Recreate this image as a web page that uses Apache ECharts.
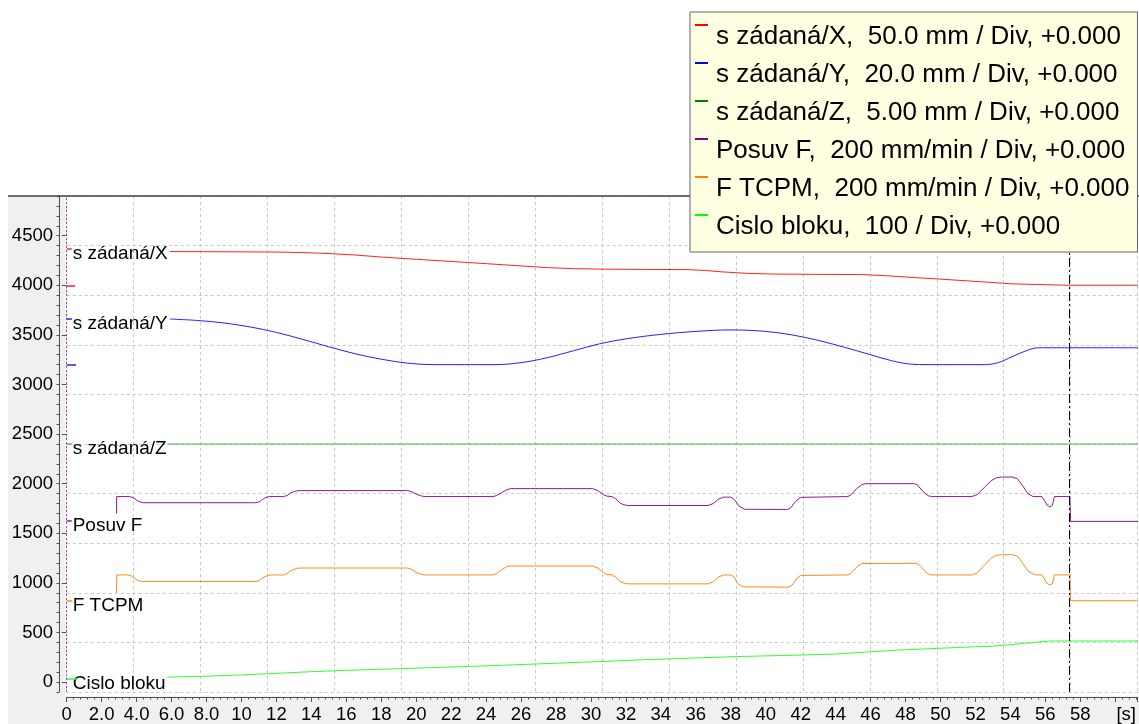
<!DOCTYPE html>
<html>
<head>
<meta charset="utf-8">
<script src="https://cdn.jsdelivr.net/npm/echarts@6/dist/echarts.min.js"></script>
<style>
  html, body { margin: 0; padding: 0; background: #ffffff; }
  #chart { width: 1139px; height: 724px; }
</style>
</head>
<body>
<div id="chart"></div>
<script>
// ---- recorder channels -------------------------------------------------
const channelNames   = ['s zádaná/X', 's zádaná/Y', 's zádaná/Z', 'Posuv F', 'F TCPM', 'Cislo bloku'];
const channelScales  = ['50.0 mm / Div', '20.0 mm / Div', '5.00 mm / Div', '200 mm/min / Div', '200 mm/min / Div', '100 / Div'];
const channelOffsets = ['+0.000', '+0.000', '+0.000', '+0.000', '+0.000', '+0.000'];
const channelColors  = ['#ff0000', '#0000ff', '#008000', '#800080', '#ff8000', '#00ff00'];
const traceColors    = ['#ff2020', '#2020ff', '#4cb04c', '#8c1c8c', '#ff8a1a', '#30ff30'];

// level of each channel's name tag and the length [s] of its tag dash
const tagLevels  = [4364, 3664, 2400, 1624, 824, 34];
const tagLengths = [0.29, 0.30, 0.29, 0.29, 0.32, 0.61];
// second reference dash (X and Y only)
const refLevels  = [4000, 3200, null, null, null, null];
const refLengths = [0.48, 0.53, 0, 0, 0, 0];

// cursors [s]
const cursorStart = 0;
const cursorEnd = 57.35;

// axes
const timeMax = 61.28;
const timeDivisions = 16;
const yMin = -100;
const yMax = 4900;
const yDivision = 500;
const yTickLabels = [0, 500, 1000, 1500, 2000, 2500, 3000, 3500, 4000, 4500];

// ---- samples [time s, display value] -----------------------------------
const sZadanaX = [
  [5.9, 4340], [9, 4338], [12, 4335], [13.5, 4330], [15, 4320], [16.5, 4305], [18, 4285],
  [20, 4262], [22, 4240], [24, 4218], [26, 4195], [27.5, 4178], [29, 4168], [30.5, 4163],
  [33, 4160], [35.5, 4158], [36.5, 4150], [37.5, 4135], [39, 4120], [40.5, 4113], [43, 4110],
  [45.5, 4108], [47, 4095], [48.5, 4078], [50, 4062], [51.5, 4045], [53, 4028], [54, 4015],
  [55.5, 4008], [57.3, 4000], [61.3, 4000]
];
const sZadanaY = [
  [5.9, 3660], [7.5, 3645], [9, 3620], [10.5, 3580], [12, 3525], [13.5, 3455], [15, 3380],
  [16.5, 3310], [18, 3255], [19.5, 3215], [21, 3200], [24.5, 3200], [26, 3220], [27.5, 3270],
  [29, 3340], [30.5, 3410], [32, 3460], [34, 3505], [36, 3535], [38, 3550], [40, 3535],
  [41.5, 3500], [43, 3445], [44.5, 3375], [46, 3300], [47.2, 3240], [48.3, 3205], [49.3, 3200],
  [52.5, 3200], [53.3, 3220], [54.1, 3280], [54.9, 3340], [55.6, 3370], [61.3, 3370]
];
const sZadanaZ = [
  [5.75, 2400], [61.3, 2400]
];
const posuvF = [
  [2.85, 1700], [2.86, 1870], [3.6, 1870], [3.8, 1860], [4.0, 1835], [4.2, 1815], [4.4, 1808],
  [10.8, 1808], [11.0, 1815], [11.2, 1840], [11.4, 1862], [11.6, 1870],
  [12.4, 1870], [12.6, 1880], [12.8, 1905], [13.1, 1925], [13.3, 1930],
  [19.5, 1930], [19.7, 1922], [20.0, 1895], [20.3, 1876], [20.5, 1870],
  [24.4, 1870], [24.6, 1880], [24.9, 1910], [25.2, 1940], [25.4, 1950],
  [30.1, 1950], [30.4, 1930], [30.7, 1890], [30.9, 1875], [31.2, 1870], [31.4, 1850],
  [31.7, 1800], [32.0, 1782], [32.2, 1780],
  [36.7, 1780], [37.0, 1800], [37.3, 1845], [37.6, 1864], [38.0, 1864], [38.2, 1840],
  [38.5, 1770], [38.8, 1742], [41.2, 1740], [41.4, 1750], [41.7, 1820], [42.0, 1862], [42.1, 1870],
  [44.7, 1870], [44.9, 1890], [45.2, 1950], [45.5, 1990], [45.7, 2000],
  [48.5, 2000], [48.7, 1985], [49.0, 1920], [49.3, 1878], [49.5, 1870],
  [51.8, 1870], [52.1, 1890], [52.5, 1960], [52.9, 2030], [53.2, 2060], [53.5, 2067],
  [54.1, 2067], [54.4, 2050], [54.7, 1980], [55.0, 1900], [55.3, 1870],
  [55.8, 1870], [55.95, 1830], [56.1, 1785], [56.25, 1766], [56.4, 1780], [56.5, 1800],
  [56.52, 1870], [57.4, 1870], [57.45, 1620], [61.3, 1620]
];
const fTcpm = [
  [2.85, 900], [2.86, 1080], [3.5, 1080], [3.7, 1070], [3.9, 1045], [4.1, 1022], [4.3, 1014],
  [10.8, 1014], [11.0, 1022], [11.2, 1050], [11.5, 1075], [11.7, 1080],
  [12.4, 1080], [12.6, 1095], [12.9, 1130], [13.2, 1148], [13.4, 1150],
  [19.5, 1150], [19.7, 1140], [20.0, 1105], [20.3, 1085], [20.5, 1080],
  [24.4, 1080], [24.6, 1095], [24.9, 1135], [25.2, 1165], [25.4, 1170],
  [30.1, 1170], [30.4, 1150], [30.7, 1105], [30.9, 1085], [31.2, 1080], [31.4, 1060],
  [31.7, 1010], [32.0, 992], [32.2, 990],
  [36.7, 990], [37.0, 1010], [37.3, 1060], [37.6, 1080], [38.0, 1080], [38.2, 1055],
  [38.4, 990], [38.7, 960], [41.3, 957], [41.5, 975], [41.8, 1050], [42.0, 1075], [42.1, 1080],
  [44.7, 1080], [44.9, 1100], [45.2, 1160], [45.5, 1195], [45.6, 1197],
  [48.6, 1197], [48.8, 1180], [49.1, 1120], [49.3, 1090], [49.5, 1080],
  [51.8, 1080], [52.1, 1100], [52.5, 1175], [52.9, 1250], [53.2, 1278], [53.5, 1284],
  [54.1, 1284], [54.4, 1270], [54.7, 1200], [55.0, 1120], [55.3, 1090], [55.5, 1080],
  [55.8, 1080], [55.95, 1040], [56.1, 995], [56.25, 980], [56.4, 990], [56.5, 1010],
  [56.52, 1080], [57.4, 1080], [57.45, 820], [61.3, 820]
];
const cisloBloku = [
  [5.75, 50], [7.6, 57], [10, 72], [12, 88], [14, 105], [16, 118], [19, 135], [22, 152],
  [25, 170], [28, 190], [30.5, 207], [33, 225], [36, 243], [38.3, 257], [41, 268], [44, 282],
  [45.5, 300], [47.5, 322], [50.5, 345], [53, 362], [54.5, 385], [56.2, 414], [61.3, 414]
];

const channelData = [sZadanaX, sZadanaY, sZadanaZ, posuvF, fTcpm, cisloBloku];

// ---- styling -------------------------------------------------------------
const FONT = '"Liberation Sans", Arial, sans-serif';
const AXIS_COLOR = '#505050';
const GRID_COLOR = '#c8c8c8';

const chart = echarts.init(document.getElementById('chart'), null, { renderer: 'canvas' });

function dashMarks(i) {
  const marks = [
    [{ coord: [cursorStart, tagLevels[i]] }, { coord: [cursorStart + tagLengths[i], tagLevels[i]] }]
  ];
  if (refLevels[i] !== null) {
    marks.push([{ coord: [cursorStart, refLevels[i]] }, { coord: [cursorStart + refLengths[i], refLevels[i]] }]);
  }
  return marks;
}

const series = channelNames.map((name, i) => ({
  name: name,
  type: 'line',
  xAxisIndex: 0,
  yAxisIndex: 0,
  data: channelData[i],
  showSymbol: false,
  symbol: 'none',
  smooth: i === 1 ? 0.35 : false,
  itemStyle: { color: channelColors[i] },
  lineStyle: { color: traceColors[i], width: 1 },
  z: 2,
  markLine: {
    silent: true,
    symbol: ['none', 'none'],
    label: { show: false },
    lineStyle: { color: traceColors[i], width: 1.5, type: 'solid' },
    data: dashMarks(i)
  }
}));

// cursor lines
series.push({
  name: 'cursors',
  type: 'line',
  xAxisIndex: 0,
  yAxisIndex: 0,
  data: [],
  z: 3,
  markLine: {
    silent: true,
    symbol: ['none', 'none'],
    label: { show: false },
    data: [
      { xAxis: cursorStart, lineStyle: { color: '#a040a0', width: 1, type: [2, 2] } },
      { xAxis: cursorEnd, lineStyle: { color: '#000000', width: 1, type: [9, 3, 2, 3] } }
    ]
  }
});

function timeLabel(v) {
  if (v === 0) return '0';
  if (Math.abs(v - 60) < 1e-6) return '{unit|[s]}';
  if (v < 10) return v.toFixed(1);
  return String(Math.round(v));
}

const LEGEND_ICON = 'path://M0,0H13V2H0Z M15.99,25.99H16V26H15.99Z';

const baseGraphic = [
  { type: 'rect', id: 'panelLeft', z: -10, silent: true,
    shape: { x: 8, y: 196, width: 57, height: 528 }, style: { fill: '#f0f0f0' } },
  { type: 'rect', id: 'panelBottom', z: -10, silent: true,
    shape: { x: 8, y: 696, width: 1131, height: 28 }, style: { fill: '#f0f0f0' } },
  { type: 'line', id: 'topBorder', z: 3, silent: true,
    shape: { x1: 8, y1: 196, x2: 1139, y2: 196 }, style: { stroke: '#404040', lineWidth: 1.5 } }
];

const option = {
  animation: false,
  backgroundColor: '#ffffff',
  textStyle: { fontFamily: FONT },
  grid: { left: 66.7, right: 0, top: 196, bottom: 28.5, containLabel: false },
  legend: {
    data: channelNames,
    orient: 'vertical',
    left: 690,
    top: 12,
    padding: [12, 8, 12, 5],
    itemGap: 12,
    itemWidth: 16,
    itemHeight: 26,
    icon: LEGEND_ICON,
    selectedMode: false,
    backgroundColor: '#ffffe1',
    borderColor: '#646464',
    borderWidth: 1,
    borderRadius: 0,
    z: 6,
    textStyle: { fontFamily: FONT, fontSize: 26, color: '#000000', padding: 0 },
    formatter: function (name) {
      const i = channelNames.indexOf(name);
      return name + ',  ' + channelScales[i] + ', ' + channelOffsets[i];
    }
  },
  xAxis: [
    { // division grid
      type: 'value', min: 0, max: timeMax, interval: timeMax / timeDivisions,
      position: 'bottom',
      axisLine: { show: false }, axisTick: { show: false }, axisLabel: { show: false },
      splitLine: { show: true, lineStyle: { color: GRID_COLOR, width: 1, type: [3, 3] } }
    },
    { // time scale
      type: 'value', min: 0, max: timeMax, interval: 2,
      position: 'bottom', offset: 5,
      axisLine: { show: true, onZero: false, lineStyle: { color: AXIS_COLOR, width: 1 } },
      axisTick: { show: true, inside: false, length: 5, lineStyle: { color: AXIS_COLOR } },
      minorTick: { show: true, splitNumber: 5, length: 2.5, lineStyle: { color: AXIS_COLOR } },
      splitLine: { show: false },
      axisLabel: {
        show: true, margin: 8, color: '#000000', fontFamily: FONT, fontSize: 18.5,
        showMinLabel: true, showMaxLabel: false,
        formatter: timeLabel,
        rich: { unit: { fontFamily: FONT, fontSize: 18.5, color: '#000000', padding: [0, 0, 0, 22] } }
      }
    }
  ],
  yAxis: [
    { // division grid
      type: 'value', min: yMin, max: yMax, interval: yDivision,
      position: 'left',
      axisLine: { show: false }, axisTick: { show: false }, axisLabel: { show: false },
      splitLine: { show: true, lineStyle: { color: GRID_COLOR, width: 1, type: [3, 3] } }
    },
    { // axis line with fine ticks
      type: 'value', min: yMin, max: yMax, interval: 100,
      position: 'left', offset: 7.7,
      axisLine: { show: true, onZero: false, lineStyle: { color: AXIS_COLOR, width: 1 } },
      axisTick: { show: true, length: 2.5, lineStyle: { color: AXIS_COLOR } },
      axisLabel: { show: false },
      splitLine: { show: false }
    },
    { // labelled ticks
      type: 'value', min: yMin, max: yMax,
      position: 'left', offset: 7.7,
      axisLine: { show: false },
      axisTick: { show: true, length: 5, customValues: yTickLabels, lineStyle: { color: AXIS_COLOR } },
      axisLabel: {
        show: true, margin: 6, color: '#000000', fontFamily: FONT, fontSize: 18.5,
        customValues: yTickLabels,
        formatter: function (v) { return String(v); }
      },
      splitLine: { show: false }
    }
  ],
  graphic: baseGraphic,
  series: series
};

chart.setOption(option);

// channel name tags, anchored at each channel's tag level
const tagGraphic = channelNames.map((name, i) => {
  const p = chart.convertToPixel({ xAxisIndex: 0, yAxisIndex: 0 }, [cursorStart, tagLevels[i]]);
  return {
    type: 'text', id: 'tag' + i, z: 5, silent: true,
    x: p[0] + 6, y: p[1] + 5,
    style: {
      text: name, fill: '#000000', font: '19px ' + FONT,
      textAlign: 'left', textVerticalAlign: 'middle'
    }
  };
});

chart.setOption({ graphic: baseGraphic.concat(tagGraphic) });
</script>
</body>
</html>
